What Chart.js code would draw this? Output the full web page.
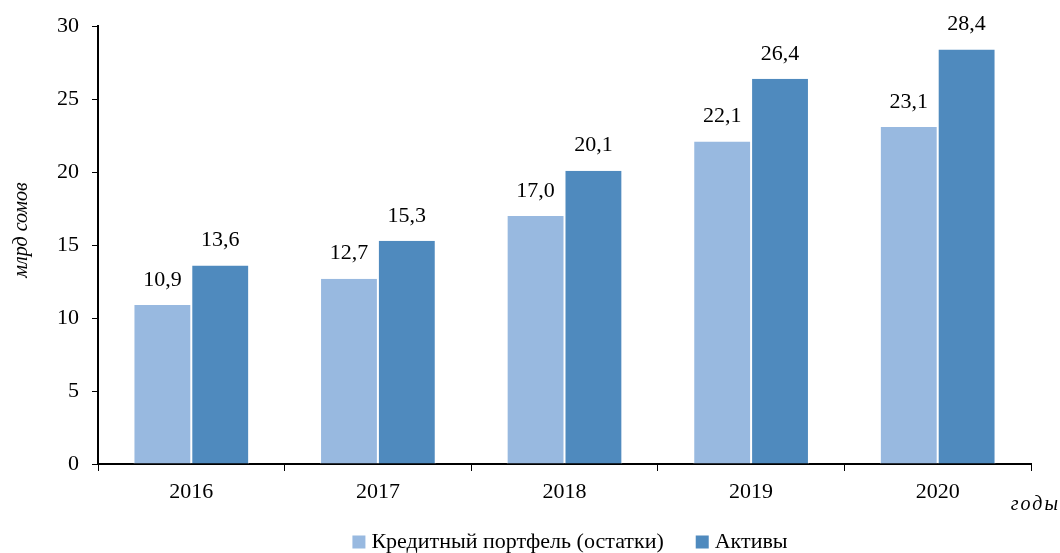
<!DOCTYPE html>
<html lang="ru">
<head>
  <meta charset="UTF-8">
  <title>Кредитный портфель и активы</title>
  <script src="https://cdn.jsdelivr.net/npm/chart.js"></script>
  <style>
    html, body { margin: 0; padding: 0; background: #fff; }
    #wrap { width: 1060px; height: 553px; }
  </style>
</head>
<body>
<div id="wrap"><canvas id="chart"></canvas></div>
<script>
  const years = ['2016', '2017', '2018', '2019', '2020'];
  const credit = [10.9, 12.7, 17.0, 22.1, 23.1];
  const assets = [13.6, 15.3, 20.1, 26.4, 28.4];
  const seriesNames = ['Кредитный портфель (остатки)', 'Активы'];
  const colors = ['#98b9e0', '#4f8abe'];
  const yTitle = 'млрд сомов';
  const xTitle = 'годы';

  const serif = '"Liberation Serif", "DejaVu Serif", serif';

  // подписи значений над столбцами
  const valueLabels = {
    id: 'valueLabels',
    afterDatasetsDraw(chart) {
      const ctx = chart.ctx;
      ctx.save();
      ctx.font = '22px ' + serif;
      ctx.fillStyle = '#000';
      ctx.textAlign = 'center';
      ctx.textBaseline = 'middle';
      chart.data.datasets.forEach((ds, i) => {
        chart.getDatasetMeta(i).data.forEach((bar, j) => {
          const txt = ds.data[j].toFixed(1).replace('.', ',');
          ctx.fillText(txt, bar.x, bar.y - 25);
        });
      });
      ctx.restore();
    }
  };

  // подписи осей и легенда
  const extras = {
    id: 'extras',
    afterDraw(chart) {
      const ctx = chart.ctx;
      ctx.save();
      ctx.fillStyle = '#000';
      ctx.font = 'italic 20px ' + serif;
      ctx.textAlign = 'center';
      ctx.textBaseline = 'middle';
      ctx.translate(22, 230);
      ctx.rotate(-Math.PI / 2);
      ctx.fillText(yTitle, 0, 0);
      ctx.restore();

      ctx.save();
      ctx.fillStyle = '#000';
      ctx.font = 'italic 20px ' + serif;
      ctx.textAlign = 'right';
      ctx.textBaseline = 'middle';
      if (ctx.letterSpacing !== undefined) ctx.letterSpacing = '2px';
      ctx.fillText(xTitle, 1060, 505);
      ctx.restore();

      // легенда
      ctx.save();
      ctx.font = '22px ' + serif;
      ctx.textBaseline = 'middle';
      ctx.textAlign = 'left';
      const box = 13, gapBox = 6, gapItem = 32;
      const widths = seriesNames.map(n => ctx.measureText(n).width);
      let total = 0;
      widths.forEach((w, i) => { total += box + gapBox + w + (i ? gapItem : 0); });
      let x = 570 - total / 2;
      const y = 542;
      seriesNames.forEach((n, i) => {
        ctx.fillStyle = colors[i];
        ctx.fillRect(x, y - box / 2, box, box);
        ctx.fillStyle = '#000';
        ctx.fillText(n, x + box + gapBox, y);
        x += box + gapBox + widths[i] + gapItem;
      });
      ctx.restore();
    }
  };

  new Chart(document.getElementById('chart'), {
    type: 'bar',
    data: {
      labels: years,
      datasets: [{
        label: seriesNames[0],
        data: credit,
        backgroundColor: colors[0],
        borderColor: '#ffffff',
        borderWidth: { left: 1, right: 1, top: 0, bottom: 0 },
        borderSkipped: 'bottom'
      }, {
        label: seriesNames[1],
        data: assets,
        backgroundColor: colors[1],
        borderColor: '#ffffff',
        borderWidth: { left: 1, right: 1, top: 0, bottom: 0 },
        borderSkipped: 'bottom'
      }]
    },
    options: {
      responsive: true,
      maintainAspectRatio: false,
      animation: false,
      datasets: {
        bar: { categoryPercentage: 0.62, barPercentage: 1.0 }
      },
      layout: { padding: { top: 24, right: 29, left: 0, bottom: 0 } },
      scales: {
        x: {
          grid: { display: true, drawOnChartArea: false, tickLength: 7, color: '#000', offset: true },
          border: { display: true, color: '#000', width: 2 },
          ticks: { color: '#000', font: { family: serif, size: 22 }, padding: 8 },
          afterFit(s) { s.height = 89; }
        },
        y: {
          min: 0,
          max: 30,
          grid: { display: true, drawOnChartArea: false, tickLength: 6, color: '#000' },
          border: { display: true, color: '#000', width: 2 },
          ticks: { stepSize: 5, color: '#000', font: { family: serif, size: 22 }, padding: 13 },
          afterFit(s) { s.width = 98; }
        }
      },
      plugins: {
        legend: { display: false },
        tooltip: { enabled: false }
      }
    },
    plugins: [valueLabels, extras]
  });
</script>
</body>
</html>
